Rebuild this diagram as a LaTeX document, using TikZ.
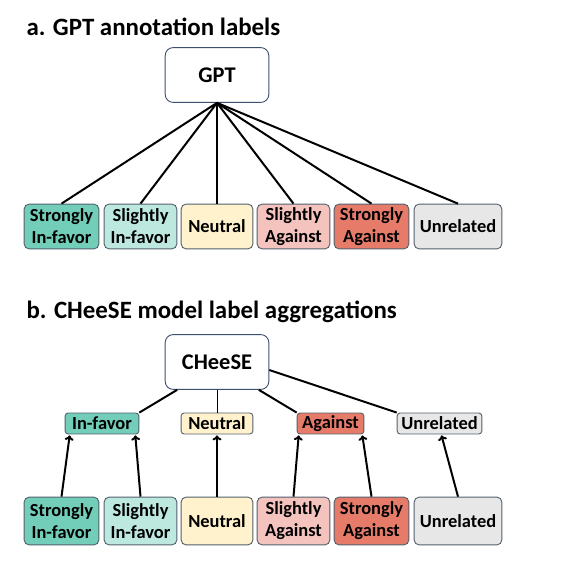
\documentclass[tikz,border=0pt]{standalone}
\usepackage{fontspec}
\setmainfont{Carlito}
\usetikzlibrary{positioning, arrows.meta}

\definecolor{sinfav}{HTML}{72CDB9}
\definecolor{linfav}{HTML}{BDE8DF}
\definecolor{neut}{HTML}{FFF2CC}
\definecolor{lagainst}{HTML}{F4C3BE}
\definecolor{sagainst}{HTML}{E77B6A}
\definecolor{unrel}{HTML}{E7E7E7}
\definecolor{edge}{HTML}{52606E}
\definecolor{modeledge}{HTML}{3E4F6E}

\tikzset{
  labbox/.style={draw=edge, line width=0.9pt, rounded corners=5pt, inner sep=0pt,
    align=center, font=\bfseries\fontsize{18.5}{22}\selectfont, minimum height=45},
  midbox/.style={labbox, minimum height=21, rounded corners=3pt},
  modelbox/.style={draw=modeledge, line width=0.9pt, rounded corners=8pt, fill=white,
    minimum width=104, minimum height=55, font=\bfseries\fontsize{22.5}{26}\selectfont},
  conn/.style={line width=2pt},
  agg/.style={conn, -{To[length=5pt, width=9pt]}},
}

\begin{document}
\begin{tikzpicture}[x=1bp, y=-1bp]
  \useasboundingbox (0,0) rectangle (580,580);

  % a. GPT annotation labels
  \node[anchor=base west, font=\bfseries\fontsize{25}{28}\selectfont] (titlea) at (23,36)
    {a. GPT annotation labels};
  \node[modelbox] (gpt) at (217,75) {GPT};
  \node[labbox, fill=sinfav,   minimum width=75] (asif) at (61.5,226.5) {Strongly\\In-favor};
  \node[labbox, fill=linfav,   minimum width=73] (alif) at (140.5,226.5) {Slightly\\In-favor};
  \node[labbox, fill=neut,     minimum width=72] (aneu) at (217,226.5) {Neutral};
  \node[labbox, fill=lagainst, minimum width=73] (alag) at (293.5,226.5) {Slightly\\Against};
  \node[labbox, fill=sagainst, minimum width=75] (asag) at (371.5,226.5) {Strongly\\Against};
  \node[labbox, fill=unrel,    minimum width=88] (aunr) at (458,226.5) {Unrelated};
  \foreach \n in {asif,alif,aneu,alag,asag,aunr}
    \draw[conn] (gpt.south) -- (\n.north);

  % b. CHeeSE model label aggregations
  \node[anchor=base west, font=\bfseries\fontsize{25}{28}\selectfont] (titleb) at (23,318)
    {b. CHeeSE model label aggregations};
  \node[modelbox] (cheese) at (217,362) {CHeeSE};
  \node[midbox, fill=sinfav,   minimum width=74] (minf) at (102,423.5) {In-favor};
  \node[midbox, fill=neut,     minimum width=72] (mneu) at (217,423.5) {Neutral};
  \node[midbox, fill=sagainst, minimum width=67] (magn) at (330.5,423.5) {Against};
  \node[midbox, fill=unrel,    minimum width=85] (munr) at (439.5,423.5) {Unrelated};
  \node[labbox, fill=sinfav,   minimum width=75, minimum height=48] (bsif) at (61.5,521) {Strongly\\In-favor};
  \node[labbox, fill=linfav,   minimum width=73, minimum height=48] (blif) at (140.5,521) {Slightly\\In-favor};
  \node[labbox, fill=neut,     minimum width=72, minimum height=48] (bneu) at (217,521) {Neutral};
  \node[labbox, fill=lagainst, minimum width=73, minimum height=48] (blag) at (293.5,521) {Slightly\\Against};
  \node[labbox, fill=sagainst, minimum width=75, minimum height=48] (bsag) at (371.5,521) {Strongly\\Against};
  \node[labbox, fill=unrel,    minimum width=88, minimum height=48] (bunr) at (458,521) {Unrelated};

  \draw[conn] ([xshift=-40pt]cheese.south) -- (minf.north east);
  \draw[line width=0.8pt] (cheese.south) -- (mneu.north);
  \draw[conn] ([xshift=42pt]cheese.south) -- (magn.north west);
  \draw[conn] ([yshift=-8pt]cheese.east) -- (munr.north west);

  \draw[agg] (bsif.north) -- ([xshift=5pt, yshift=-1pt]minf.south west);
  \draw[agg] (blif.north) -- ([xshift=-4pt, yshift=-1pt]minf.south east);
  \draw[agg] (bneu.north) -- ([yshift=-1pt]mneu.south);
  \draw[agg] (blag.north) -- ([xshift=2pt, yshift=-1pt]magn.south west);
  \draw[agg] (bsag.north) -- ([xshift=-2pt, yshift=-1pt]magn.south east);
  \draw[agg] (bunr.north) -- ([xshift=2pt, yshift=-1pt]munr.south);
\end{tikzpicture}
\end{document}
